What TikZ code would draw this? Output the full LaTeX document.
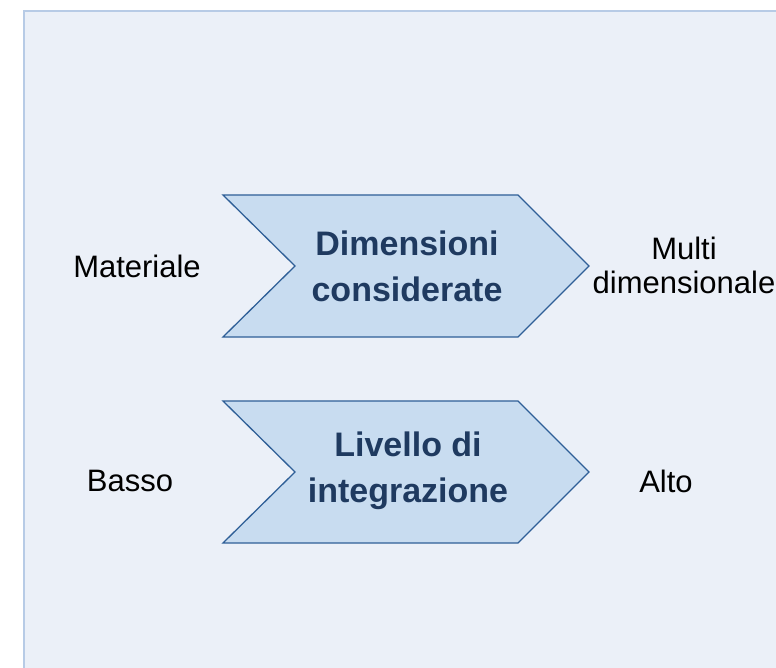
\documentclass[tikz,border=0pt]{standalone}
\usepackage{fontspec}
\setmainfont{Liberation Sans}
\definecolor{bgfill}{HTML}{EBF0F8}
\definecolor{bgline}{HTML}{B7CBE6}
\definecolor{chevfill}{HTML}{C8DCF0}
\definecolor{chevline}{HTML}{2F5F97}
\definecolor{chevtext}{HTML}{1F3A60}
\tikzset{
  chev/.style={fill=chevfill, draw=chevline, line width=1.3pt, line join=miter},
  chevlabel/.style={align=center, text=chevtext, font=\fontsize{34}{46}\selectfont\bfseries},
  sidelabel/.style={align=center, font=\fontsize{31}{34}\selectfont}
}

\begin{document}
\begin{tikzpicture}[x=1pt,y=-1pt]
    \useasboundingbox (0,0) rectangle (776,668);
    \draw[fill=bgfill, draw=bgline, line width=1.5pt] (24,11) rectangle (800,690);
    % the two chevrons
    \foreach \y in {266,472}
    \draw[chev] (223,\y-71) -- (518,\y-71) -- (589,\y) -- (518,\y+71)
        -- (223,\y+71) -- (295,\y) -- cycle;
    \node[chevlabel] (dim) at (407,266) {Dimensioni\\considerate};
    \node[chevlabel] (liv) at (408,471) {Livello di\\integrazione};
    \node[sidelabel] (mat) at (137,266) {Materiale};
    \node[sidelabel] (multi) at (684,265) {Multi\\dimensionale};
    \node[sidelabel] (basso) at (130,481) {Basso};
    \node[sidelabel] (alto) at (666,481) {Alto};
\end{tikzpicture}
\end{document}
